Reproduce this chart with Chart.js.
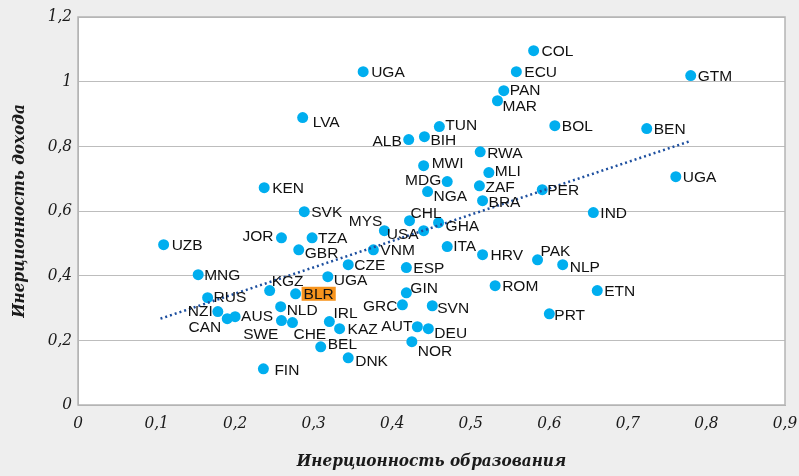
<!DOCTYPE html>
<html>
<head>
<meta charset="utf-8">
<script src="https://cdn.jsdelivr.net/npm/chart.js@4/dist/chart.umd.min.js"></script>
<style>
  html, body { margin: 0; padding: 0; background: #eeeeee; }
  #wrap { width: 799px; height: 476px; }
</style>
</head>
<body>
<div id="wrap"><canvas id="chart" width="799" height="476"></canvas></div>
<script>
const countries = ['COL','ECU','GTM','UGA','PAN','MAR','LVA','TUN','BOL','BEN','ALB','BIH','RWA','MWI','MLI','UGA','MDG','ZAF','KEN','NGA','PER','BRA','SVK','IND','CHL','GHA','MYS','USA','JOR','TZA','UZB','GBR','VNM','CZE','ITA','HRV','PAK','NLP','ESP','MNG','UGA','KGZ','BLR','ROM','ETN','GIN','RUS','GRC','SVN','NLD','NZI','PRT','AUS','CAN','IRL','SWE','CHE','AUT','DEU','KAZ','NOR','BEL','DNK','FIN'];

const educationInertia = [0.580,0.558,0.780,0.363,0.542,0.534,0.286,0.460,0.607,0.724,0.421,0.441,0.512,0.440,0.523,0.761,0.470,0.511,0.237,0.445,0.591,0.515,0.288,0.656,0.422,0.459,0.390,0.440,0.259,0.298,0.109,0.281,0.376,0.344,0.470,0.515,0.585,0.617,0.418,0.153,0.318,0.244,0.277,0.531,0.661,0.418,0.165,0.413,0.451,0.258,0.178,0.600,0.200,0.190,0.320,0.259,0.273,0.432,0.446,0.333,0.425,0.309,0.344,0.236];

const incomeInertia = [1.096,1.031,1.019,1.031,0.972,0.941,0.889,0.861,0.864,0.855,0.821,0.830,0.783,0.740,0.719,0.706,0.691,0.678,0.672,0.660,0.666,0.632,0.598,0.595,0.570,0.564,0.539,0.539,0.517,0.517,0.496,0.480,0.480,0.434,0.490,0.465,0.449,0.434,0.425,0.403,0.397,0.354,0.344,0.369,0.354,0.347,0.332,0.310,0.307,0.304,0.289,0.282,0.273,0.267,0.258,0.261,0.255,0.242,0.236,0.236,0.196,0.180,0.146,0.112];

// linear trend, ends
const trendX = [0.105, 0.778];
const trendY = [0.267, 0.815];

const highlightCountry = 'BLR';
const xTitle = 'Инерционность образования';
const yTitle = 'Инерционность дохода';

// where each label sits relative to its dot: [dx, dy, side]
const labelPlacement = [
  [8,0,'r'],[8,0,'r'],[7,0,'r'],[8,0,'r'],[6,-1,'r'],[5,5,'r'],[10,4,'r'],[6,-2,'r'],[7,0,'r'],[7,0,'r'],
  [-7,1,'l'],[6,3,'r'],[7,1,'r'],[8,-3,'r'],[6,-2,'r'],[7,0,'r'],[-6,-2,'l'],[6,1,'r'],[8,0,'r'],[6,4,'r'],
  [5,0,'r'],[6,1,'r'],[7,0,'r'],[7,0,'r'],[1,-8,'r'],[7,3,'r'],[-2,-10,'l'],[-5,3,'l'],[-8,-2,'l'],[6,0,'r'],
  [8,0,'r'],[6,3,'r'],[7,0,'r'],[6,0,'r'],[6,-1,'r'],[8,0,'r'],[3,-9,'r'],[7,2,'r'],[7,0,'r'],[6,0,'r'],
  [6,3,'r'],[2,-10,'r'],[8,0,'r'],[7,0,'r'],[7,0,'r'],[4,-5,'r'],[6,-1,'r'],[-5,1,'l'],[5,2,'r'],[6,3,'r'],
  [-5,-1,'l'],[5,1,'r'],[6,-1,'r'],[-6,8,'l'],[4,-9,'r'],[-3,13,'l'],[1,11,'r'],[-5,-1,'l'],[6,4,'r'],[8,0,'r'],
  [6,9,'r'],[7,-3,'r'],[7,3,'r'],[11,1,'r']
];

const points = educationInertia.map((x, i) => ({ x, y: incomeInertia[i] }));
const trend = trendX.map((x, i) => ({ x, y: trendY[i] }));

const fmt = v => String(Math.round(v * 10) / 10).replace('.', ',');
const tickFont = { family: '"DejaVu Serif Condensed", "DejaVu Serif", serif', style: 'italic', size: 17 };
const titleFont = { family: '"DejaVu Serif Condensed", "DejaVu Serif", serif', style: 'italic', weight: 'bold', size: 17 };

const backdrop = {
  id: 'backdrop',
  beforeDraw(chart) {
    const { ctx, chartArea: a } = chart;
    ctx.save();
    ctx.fillStyle = '#eeeeee';
    ctx.fillRect(0, 0, chart.width, chart.height);
    ctx.fillStyle = '#ffffff';
    ctx.fillRect(a.left, a.top, a.right - a.left, a.bottom - a.top);
    ctx.restore();
  },
  afterDraw(chart) {
    const { ctx, chartArea: a } = chart;
    ctx.save();
    ctx.strokeStyle = '#b4b4b4';
    ctx.lineWidth = 1.5;
    ctx.strokeRect(a.left, a.top, a.right - a.left, a.bottom - a.top);
    ctx.restore();
  }
};

const pointLabels = {
  id: 'pointLabels',
  afterDatasetsDraw(chart) {
    const ctx = chart.ctx;
    const meta = chart.getDatasetMeta(1);
    ctx.save();
    ctx.font = '15.5px "Liberation Sans", Arial, sans-serif';
    ctx.textBaseline = 'middle';
    meta.data.forEach((el, i) => {
      const [dx, dy, side] = labelPlacement[i];
      const name = countries[i];
      const tx = el.x + dx, ty = el.y + dy;
      ctx.textAlign = side === 'l' ? 'right' : 'left';
      if (name === highlightCountry) {
        const w = ctx.measureText(name).width;
        const left = side === 'l' ? tx - w : tx;
        ctx.fillStyle = '#f7941d';
        ctx.fillRect(left - 2, ty - 7, w + 4, 14);
      }
      ctx.fillStyle = '#111111';
      ctx.fillText(name, tx, ty + 1);
    });
    ctx.restore();
  }
};

new Chart(document.getElementById('chart'), {
  type: 'scatter',
  data: {
    datasets: [
      {
        label: 'trend',
        data: trend,
        showLine: true,
        borderColor: '#1d4f9f',
        borderWidth: 2.5,
        borderDash: [2, 3],
        pointRadius: 0,
        fill: false
      },
      {
        label: 'countries',
        data: points,
        backgroundColor: '#00aeef',
        borderColor: '#00aeef',
        pointRadius: 5.5,
        pointBorderWidth: 0
      }
    ]
  },
  options: {
    responsive: false,
    animation: false,
    layout: { padding: { top: 17, right: 14, bottom: 0, left: 0 } },
    plugins: {
      legend: { display: false },
      tooltip: { enabled: false }
    },
    scales: {
      x: {
        type: 'linear',
        min: 0,
        max: 0.9,
        afterFit: s => { s.height = 71; s.paddingRight = 0; s.paddingLeft = 0; },
        grid: { display: false, drawTicks: false },
        border: { display: true, color: '#b4b4b4' },
        ticks: { stepSize: 0.1, padding: 8, color: '#1a1a1a', font: tickFont, callback: fmt },
        title: { display: true, text: xTitle, color: '#1a1a1a', font: titleFont, padding: { top: 0, bottom: 4 } }
      },
      y: {
        min: 0,
        max: 1.2,
        afterFit: s => { s.width = 78; s.paddingTop = 0; s.paddingBottom = 0; },
        grid: { color: '#bdbdbd', lineWidth: 1, drawTicks: false },
        border: { display: true, color: '#b4b4b4' },
        ticks: { stepSize: 0.2, padding: 6, color: '#1a1a1a', font: tickFont, callback: fmt },
        title: { display: true, text: yTitle, color: '#1a1a1a', font: titleFont, padding: { top: 9, bottom: 0 } }
      }
    }
  },
  plugins: [backdrop, pointLabels]
});
</script>
</body>
</html>
